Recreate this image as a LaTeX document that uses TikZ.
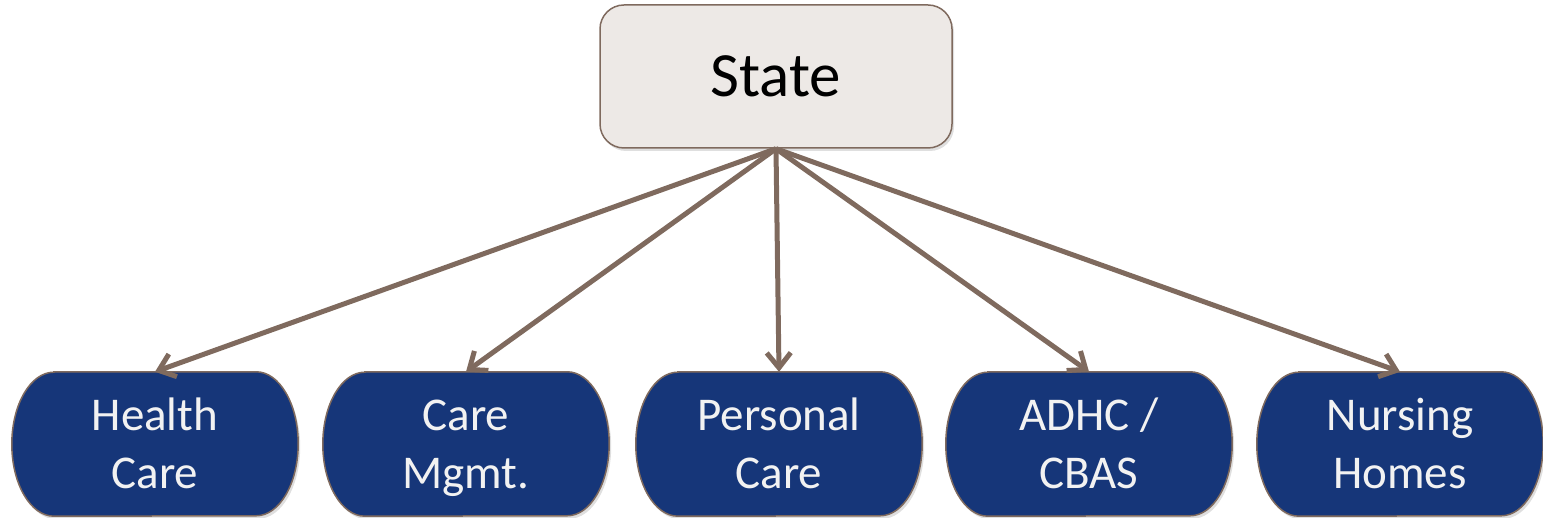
\documentclass[tikz,border=0pt]{standalone}
\usepackage{fontspec}
\setmainfont{Carlito}
\usetikzlibrary{arrows.meta,shadows,backgrounds}

\definecolor{linebrown}{HTML}{7F6A5E}
\definecolor{statefill}{HTML}{EDE9E6}
\definecolor{progblue}{HTML}{163679}

% two text lines with fixed height and depth
\newcommand\twolines[2]{\rule{0pt}{43pt}#1\\#2\rule[-11pt]{0pt}{11pt}}

\tikzset{
  statebox/.style={draw=linebrown, line width=1.5pt, fill=statefill, rounded corners=24pt,
    minimum width=352pt, minimum height=143pt,
    drop shadow={opacity=0.25, shadow xshift=2pt, shadow yshift=-3pt},
    font=\fontsize{63}{70}\selectfont},
  progbox/.style={inner sep=0pt, minimum width=286pt, minimum height=144pt, align=center,
    text=white!95!black, font=\fontsize{47}{58}\selectfont},
  progshape/.style={draw=linebrown, line width=1.5pt, fill=progblue,
    drop shadow={opacity=0.25, shadow xshift=2pt, shadow yshift=-3pt}},
  link/.style={draw=linebrown, line width=5pt, -{Straight Barb[length=15pt,width=24pt]}}
}

\begin{document}
\begin{tikzpicture}[x=1pt,y=1pt]
        \useasboundingbox (0,0) rectangle (1543,518);

        % top node
        \node[statebox] (state) at (776,441.5) {State};

        % programme nodes
        \node[progbox] (health)   at (155,74)  {\twolines{Health}{Care}};
        \node[progbox] (caremgmt) at (466,74)  {\twolines{Care}{Mgmt.}};
        \node[progbox] (personal) at (779,74)  {\twolines{Personal}{Care}};
        \node[progbox] (adhc)     at (1089,74) {\twolines{ADHC /}{CBAS}};
        \node[progbox] (nursing)  at (1400,74) {\twolines{Nursing}{Homes}};

        % box outlines with oval ends
        \begin{scope}[on background layer]
            \foreach \n in {health,caremgmt,personal,adhc,nursing}
                \draw[progshape] ([xshift=42pt]\n.north west) -- ([xshift=-42pt]\n.north east)
                    arc[start angle=90, end angle=-90, x radius=42pt, y radius=72pt]
                    -- ([xshift=42pt]\n.south west)
                    arc[start angle=270, end angle=90, x radius=42pt, y radius=72pt] -- cycle;
        \end{scope}

        % links
        \foreach \n in {health,caremgmt,personal,adhc,nursing}
            \draw[link] (state.south) -- (\n.north);
    \end{tikzpicture}
\end{document}
